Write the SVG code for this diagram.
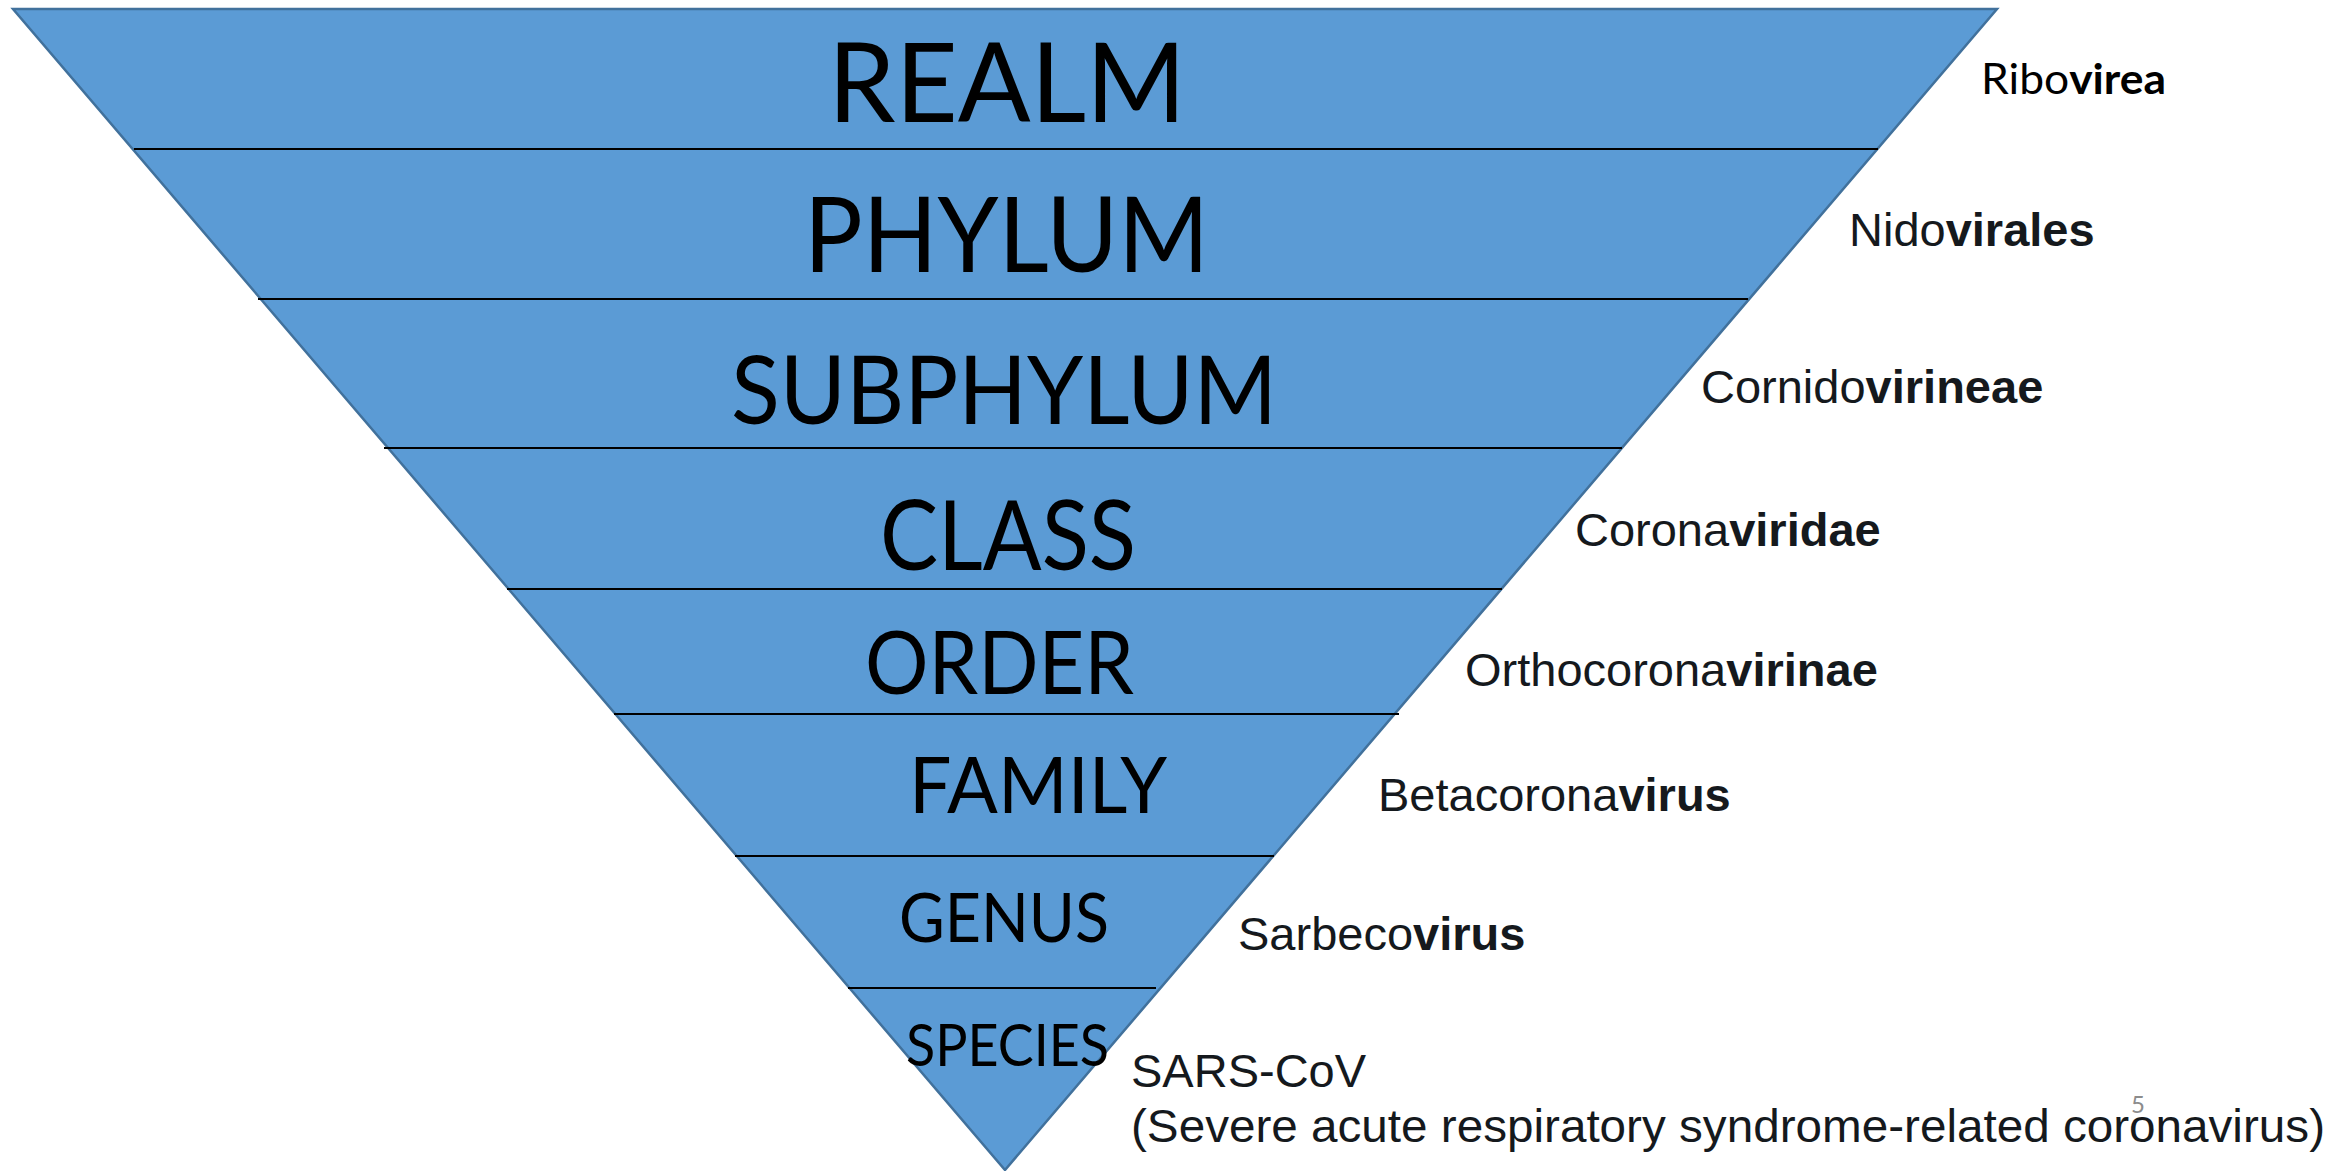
<svg xmlns="http://www.w3.org/2000/svg" width="2334" height="1171" viewBox="0 0 2334 1171">
<style>
.tri{fill:#5B9BD5;stroke:#41719C;stroke-width:2.5;stroke-linejoin:miter}
.div{stroke:#000;stroke-width:2.2}
.rank{font-family:Lato,"Open Sans","Noto Sans",sans-serif;fill:#000}
.taxon{font-family:"Liberation Sans",Arial,sans-serif;font-size:47px;fill:#15191d}
.cal{font-family:Lato,"Open Sans",sans-serif;fill:#000}
b,.b{font-weight:bold}
</style>
<rect width="2334" height="1171" fill="#fff"/>
<g id="pyramid">
<polygon class="tri" points="13,9 1997,9 1005,1170"/>
</g>
<g id="connectors">
<line class="div" x1="134" y1="149" x2="1878" y2="149"/>
<line class="div" x1="258" y1="299" x2="1748" y2="299"/>
<line class="div" x1="384" y1="448" x2="1622" y2="448"/>
<line class="div" x1="507" y1="589" x2="1502" y2="589"/>
<line class="div" x1="614" y1="714" x2="1399" y2="714"/>
<line class="div" x1="735" y1="856" x2="1274" y2="856"/>
<line class="div" x1="848" y1="988" x2="1156" y2="988"/>
</g>
<g id="realm">
<text class="rank" x="828" y="122" font-size="111" textLength="358" lengthAdjust="spacingAndGlyphs">REALM</text>
<text class="cal" x="1981" y="94" font-size="42" textLength="185" lengthAdjust="spacingAndGlyphs">Ribo<tspan class="b">virea</tspan></text>
</g>
<g id="phylum">
<text class="rank" x="804" y="272" font-size="104" textLength="405" lengthAdjust="spacingAndGlyphs">PHYLUM</text>
<text class="taxon" x="1849" y="246">Nido<tspan class="b">virales</tspan></text>
</g>
<g id="subphylum">
<text class="rank" x="731" y="424" font-size="95" textLength="546" lengthAdjust="spacingAndGlyphs">SUBPHYLUM</text>
<text class="taxon" x="1701" y="403">Cornido<tspan class="b">virineae</tspan></text>
</g>
<g id="class">
<text class="rank" x="880" y="570" font-size="96" textLength="256" lengthAdjust="spacingAndGlyphs">CLASS</text>
<text class="taxon" x="1575" y="546">Corona<tspan class="b">viridae</tspan></text>
</g>
<g id="order">
<text class="rank" x="865" y="694" font-size="88" textLength="269" lengthAdjust="spacingAndGlyphs">ORDER</text>
<text class="taxon" x="1465" y="686">Orthocorona<tspan class="b">virinae</tspan></text>
</g>
<g id="family">
<text class="rank" x="909" y="813" font-size="78" textLength="258" lengthAdjust="spacingAndGlyphs">FAMILY</text>
<text class="taxon" x="1378" y="811">Betacorona<tspan class="b">virus</tspan></text>
</g>
<g id="genus">
<text class="rank" x="899" y="942" font-size="67" textLength="210" lengthAdjust="spacingAndGlyphs">GENUS</text>
<text class="taxon" x="1238" y="950">Sarbeco<tspan class="b">virus</tspan></text>
</g>
<g id="species">
<text class="rank" x="906" y="1066" font-size="58" textLength="203" lengthAdjust="spacingAndGlyphs">SPECIES</text>
<text class="taxon" x="1131" y="1087">SARS-CoV</text>
<text class="taxon" x="1131" y="1142" textLength="1194" lengthAdjust="spacingAndGlyphs">(Severe acute respiratory syndrome-related coronavirus)</text>
</g>
<g id="page-number">
<text class="cal" x="2131" y="1113" font-size="24" fill="#8c8c8c" style="fill:#8c8c8c">5</text>
</g>
</svg>
